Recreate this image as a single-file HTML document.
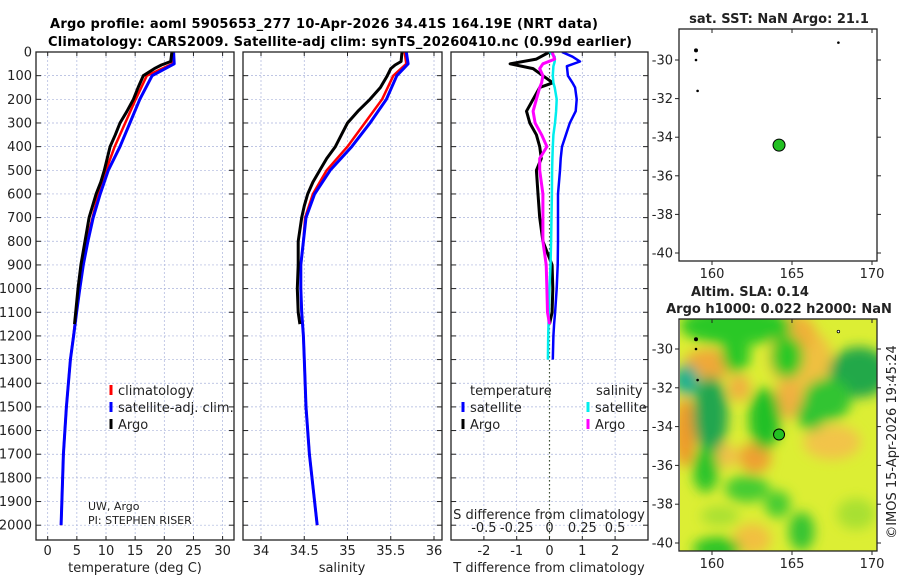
<!DOCTYPE html>
<html><head><meta charset="utf-8">
<style>
html,body{margin:0;padding:0;background:#fff;}
svg{display:block;font-family:"DejaVu Sans","Liberation Sans",sans-serif;}
</style></head>
<body>
<svg id="fig" width="900" height="580" viewBox="0 0 900 580" xmlns="http://www.w3.org/2000/svg">
<defs>
  <clipPath id="c1"><rect x="36" y="52" width="198" height="488"/></clipPath>
  <clipPath id="c2"><rect x="243" y="52" width="199" height="488"/></clipPath>
  <clipPath id="c3"><rect x="451" y="52" width="197" height="488"/></clipPath>
  <clipPath id="cm"><rect x="680" y="319" width="197" height="232"/></clipPath>
  <filter id="blur" x="-50%" y="-50%" width="200%" height="200%"><feGaussianBlur stdDeviation="6"/></filter>
</defs>
<text x="50" y="28" font-size="13" font-weight="bold" textLength="548">Argo profile: aoml 5905653_277 10-Apr-2026 34.41S 164.19E (NRT data)</text>
<text x="48" y="46" font-size="13" font-weight="bold" textLength="584">Climatology: CARS2009. Satellite-adj clim: synTS_20260410.nc (0.99d earlier)</text>
<g id="layer"></g>
</svg>
<script>
// ---------- data ----------
const depthTicks = [0,100,200,300,400,500,600,700,800,900,1000,1100,1200,1300,1400,1500,1600,1700,1800,1900,2000];
const tempTicks = [0,5,10,15,20,25,30];
const salTicks = [34,34.5,35,35.5,36];
const salTickLabels = ["34","34.5","35","35.5","36"];
const tdiffTicks = [-2,-1,0,1,2];
const sdiffTicks = [-0.5,-0.25,0,0.25,0.5];
const sdiffTickLabels = ["-0.5","-0.25","0","0.25","0.5"];

const climDepth = [0,50,100,200,300,400,500,600,700,800,900,1000,1100,1200,1300,1500,1700,2000];
const climTemp  = [21.3,21.4,17.0,15.1,13.3,11.5,10.0,8.7,7.7,6.7,6.0,5.4,4.9,4.4,3.9,3.2,2.7,2.3];
const climSal   = [35.66,35.68,35.53,35.40,35.20,35.00,34.76,34.60,34.51,34.49,34.46,34.46,34.47,34.49,34.50,34.52,34.56,34.65];

const satDepth = [0,50,100,200,300,400,500,600,700,800,900,1000,1100,1200,1300,1500,1700,2000];
const satTemp  = [21.6,21.7,17.9,15.8,14.1,12.4,10.4,9.0,7.8,6.9,6.1,5.5,4.95,4.45,3.9,3.2,2.7,2.3];
const satSal   = [35.68,35.70,35.57,35.45,35.26,35.05,34.80,34.62,34.52,34.49,34.46,34.46,34.47,34.49,34.50,34.52,34.56,34.65];

const argoDepth = [0,40,55,70,100,150,200,250,300,350,400,450,500,550,600,650,700,800,900,1000,1100,1150];
const argoTemp  = [21.3,21.1,19.5,18.3,16.4,15.5,14.7,13.6,12.4,11.6,10.7,10.2,9.7,9.1,8.3,7.7,7.1,6.4,5.7,5.2,4.8,4.6];
const argoSal   = [35.63,35.62,35.55,35.50,35.46,35.38,35.26,35.12,35.00,34.93,34.86,34.76,34.68,34.60,34.54,34.50,34.47,34.43,34.43,34.42,34.43,34.45];

const dDepth     = [0,20,40,60,100,130,150,200,250,300,350,400,450,500,600,700,800,900,1000,1100,1150,1200,1300];
const satTdiff   = [0.38,0.7,0.93,0.53,0.56,0.7,0.78,0.83,0.8,0.62,0.5,0.38,0.34,0.32,0.26,0.26,0.26,0.25,0.22,0.17,0.14,0.12,0.1];
const satSdiff   = [0,0.04,0.04,0.03,0.025,0.03,0.04,0.055,0.05,0.042,0.03,0.025,0.022,0.02,0.018,0.015,0.012,0.008,0.0,-0.005,-0.008,-0.01,-0.012];
const argoDiffDepth = [0,30,50,70,100,130,150,200,250,300,350,400,450,500,600,700,800,900,1000,1100,1150];
const argoTdiff  = [0.0,-0.4,-1.2,-0.5,-0.2,0.1,-0.3,-0.5,-0.7,-0.6,-0.4,-0.3,-0.25,-0.4,-0.35,-0.3,-0.2,0.08,0.1,0.08,0.0];
const argoSdiff  = [0.02,0.04,-0.05,-0.075,-0.05,-0.06,-0.075,-0.1,-0.125,-0.11,-0.06,-0.02,-0.075,-0.075,-0.05,-0.05,-0.05,-0.025,-0.02,-0.015,0.0];

const lonTicks = [160,165,170];
const latTicks = [-30,-32,-34,-36,-38,-40];
const argoLon = 164.19, argoLat = -34.41;
const otherLon = [159.0,159.0,159.1,167.9];
const otherLat = [-29.5,-30.0,-31.6,-29.1];

// ---------- scales ----------
const yD = d => 52 + d*0.2366;
const xT = t => 47.7 + t*5.83;
const xS = s => 261 + (s-34)*86.5;
const xTd = v => 549.5 + v*32.8;
const xSd = v => 549.5 + v*4*32.8;
const xLon = l => 712 + (l-160)*16;
const yLat1 = l => 60 + (-30-l)*19.3;
const yLat2 = l => 349 + (-30-l)*19.4;

const NS="http://www.w3.org/2000/svg";
const layer=document.getElementById('layer');
function el(tag,attrs,parent){const e=document.createElementNS(NS,tag);for(const k in attrs)e.setAttribute(k,attrs[k]);(parent||layer).appendChild(e);return e;}
function txt(x,y,s,size,anchor,parent){const t=el('text',{x:x,y:y,'font-size':size,'text-anchor':anchor||'start',fill:'#222'},parent);t.textContent=s;return t;}

const panels=[{x0:36,x1:234,clip:'c1'},{x0:243,x1:442,clip:'c2'},{x0:451,x1:648,clip:'c3'}];
const Y0=52,Y1=540;

panels.forEach((p,i)=>{
  const g=el('g',{});
  
  
  depthTicks.forEach(d=>{el('line',{x1:p.x0,x2:p.x1,y1:yD(d),y2:yD(d),stroke:'#aab4dc','stroke-width':0.7,'stroke-dasharray':'2,2'},g);
    el('line',{x1:p.x0,x2:p.x0+5,y1:yD(d),y2:yD(d),stroke:'#222'},g);
    el('line',{x1:p.x1-5,x2:p.x1,y1:yD(d),y2:yD(d),stroke:'#222'},g);});
  let xs = i==0?tempTicks.map(xT):i==1?salTicks.map(xS):tdiffTicks.map(xTd);
  xs.forEach(x=>{el('line',{x1:x,x2:x,y1:Y0,y2:Y1,stroke:'#aab4dc','stroke-width':0.7,'stroke-dasharray':'2,2'},g);
    el('line',{x1:x,x2:x,y1:Y0,y2:Y0+4,stroke:'#222'},g);el('line',{x1:x,x2:x,y1:Y1-4,y2:Y1,stroke:'#222'},g);});
});
const zl=el('line',{x1:xTd(0),x2:xTd(0),y1:Y0,y2:Y1,stroke:'#445533','stroke-width':1.2,'stroke-dasharray':'1.5,2.5'});



const dl=el('g',{});


depthTicks.forEach(d=>txt(32,yD(d)+4.5,String(d),13,'end',dl));

const xl1=el('g',{});
tempTicks.forEach(t=>txt(xT(t),555,String(t),13,'middle',xl1));
const xl2=el('g',{});
salTicks.forEach((s,i)=>txt(xS(s),555,salTickLabels[i],13,'middle',xl2));
const xl3=el('g',{});
tdiffTicks.forEach(t=>txt(xTd(t),555,String(t),13,'middle',xl3));
const xl4=el('g',{});
sdiffTicks.forEach((s,i)=>txt(xSd(s),532,sdiffTickLabels[i],13,'middle',xl4));

let t;
t=txt(135,572,'temperature (deg C)',13,'middle');
t=txt(342,572,'salinity',13,'middle');
t=txt(549,572,'T difference from climatology',13,'middle');
t=txt(549,519,'S difference from climatology',13,'middle');
t=txt(88,510,'UW, Argo',11,'start');
t=txt(88,524,'PI: STEPHEN RISER',11,'start');

function line(xs,ds,xf,color,w,clip,name){
  const pts=xs.map((v,i)=>xf(v).toFixed(1)+','+yD(ds[i]).toFixed(1)).join(' ');
  const p=el('polyline',{points:pts,fill:'none',stroke:color,'stroke-width':w,'stroke-linejoin':'round','clip-path':'url(#'+clip+')'});
  
  
}
line(climTemp,climDepth,xT,'#ff0000',2.5,'c1','climatology-temperature-line');
line(satTemp,satDepth,xT,'#0000ff',3,'c1','satellite-temperature-line');
line(argoTemp,argoDepth,xT,'#000000',3,'c1','argo-temperature-line');
line(climSal,climDepth,xS,'#ff0000',2.5,'c2','climatology-salinity-line');
line(satSal,satDepth,xS,'#0000ff',3,'c2','satellite-salinity-line');
line(argoSal,argoDepth,xS,'#000000',3,'c2','argo-salinity-line');
line(satTdiff,dDepth,xTd,'#0000ff',2.5,'c3','satellite-t-difference-line');
line(argoTdiff,argoDiffDepth,xTd,'#000000',3,'c3','argo-t-difference-line');
line(satSdiff,dDepth,xSd,'#00eeee',2.5,'c3','satellite-s-difference-line');
line(argoSdiff,argoDiffDepth,xSd,'#ff00ff',3,'c3','argo-s-difference-line');

panels.forEach((p,i)=>{const r=el('rect',{x:p.x0,y:Y0,width:p.x1-p.x0,height:Y1-Y0,fill:'none',stroke:'#222','stroke-width':1.3});
  });

function legItem(mx,tx,y,color,label,name){
  const g=el('g',{});
  
  
  if(color) el('rect',{x:mx-1.5,y:y-10,width:3,height:10,fill:color},g);
  txt(tx,y,label,13,'start',g);
}
legItem(111,118,395,'#ff0000','climatology','legend-climatology');
legItem(111,118,412,'#0000ff','satellite-adj. clim.','legend-satellite-adj');
legItem(111,118,429,'#000000','Argo','legend-argo');
legItem(0,470,395,null,'temperature','legend-temperature-header');
legItem(463,470,412,'#0000ff','satellite','legend-t-satellite');
legItem(463,470,429,'#000000','Argo','legend-t-argo');
legItem(0,596,395,null,'salinity','legend-salinity-header');
legItem(588,595,412,'#00eeee','satellite','legend-s-satellite');
legItem(588,595,429,'#ff00ff','Argo','legend-s-argo');

function mapAxes(top,bottom,yl,name){
  const g=el('g',{});
  
  
  el('rect',{x:679,y:top,width:198,height:bottom-top,fill:'none',stroke:'#222','stroke-width':1.3},g);
  lonTicks.forEach(l=>{const x=xLon(l);el('line',{x1:x,x2:x,y1:top,y2:top+4,stroke:'#222'},g);el('line',{x1:x,x2:x,y1:bottom,y2:bottom+4,stroke:'#222'},g);txt(x,bottom+17,String(l),13,'middle',g);});
  latTicks.forEach(l=>{const y=yl(l);el('line',{x1:675,x2:679,y1:y,y2:y,stroke:'#222'},g);el('line',{x1:877,x2:881,y1:y,y2:y,stroke:'#222'},g);txt(673,y+4.5,String(l),13,'end',g);});
}
otherLon.forEach((l,i)=>{const c=el('circle',{cx:xLon(l),cy:yLat1(otherLat[i]),r:i==0?2:1.3,fill:'#000'});
  });
let ap=el('circle',{cx:xLon(argoLon),cy:yLat1(argoLat),r:6,fill:'#22c022',stroke:'#000','stroke-width':1});

mapAxes(29,261,yLat1,'sst-map-axes');
t=txt(779,23,'sat. SST: NaN Argo: 21.1',13,'middle');t.setAttribute('font-weight','bold');

const hm=el('g',{'clip-path':'url(#cm)'});


el('rect',{x:679,y:319,width:198,height:232,fill:'#dcee34'},hm);
const bl=el('g',{filter:'url(#blur)'},hm);
const blobs=[ // lon, lat, rx(deg), ry(deg), color
 [165.5,-30.5,2.0,1.6,'#f0c040'],[158.3,-34.3,0.7,1.8,'#ee9a2a'],[159.8,-30.8,1.6,0.8,'#f0a838'],[162.7,-35.6,1.0,0.8,'#eea030'],[165,-29.2,1.5,1.0,'#f0b038'],
 [164.8,-32.6,0.9,1.0,'#f0b040'],[161.7,-32.0,0.7,0.7,'#f0b040'],[167.5,-34.8,1.8,0.9,'#f2c448'],[162.5,-39.8,1.2,0.8,'#f2c040'],[160.8,-35.5,0.9,0.6,'#f0c048'],
 [161.5,-28.8,3.5,1.0,'#2cc828'],[161.5,-30.3,0.9,0.9,'#2cc828'],[164.7,-30.4,1.0,1.1,'#2cc828'],
 [169.2,-31.2,1.9,1.3,'#20a848'],[167.2,-32.6,1.5,1.1,'#30c430'],[166.2,-33.4,0.9,0.8,'#30c430'],[163.3,-33.6,1.0,1.6,'#24c028'],
 [159.9,-33.4,1.1,2.0,'#20a650'],[158.4,-31.6,0.8,0.8,'#20b090'],[159.6,-36.2,0.8,1.2,'#2cc42c'],
 [162.2,-37.2,1.4,0.7,'#44cc30'],[164.1,-38.0,0.8,0.7,'#44cc30'],[165.6,-39.4,0.8,1.0,'#34c430'],[160.3,-40.3,1.5,0.6,'#2cc428'],
 [160.5,-38.6,1.2,0.5,'#a8e030'],[169,-38.5,1.2,0.8,'#a8e030']
];
blobs.forEach(b=>el('ellipse',{cx:xLon(b[0]),cy:yLat2(b[1]),rx:b[2]*16,ry:b[3]*19.4,fill:b[4]},bl));
otherLon.forEach((l,i)=>{const c=el('circle',{cx:xLon(l),cy:yLat2(otherLat[i]),r:i==0?2:1.3,fill:i==3?'#fff':'#000',stroke:i==3?'#000':'none','stroke-width':0.8});
  });
ap=el('circle',{cx:xLon(argoLon),cy:yLat2(argoLat),r:5.5,fill:'#22c022',stroke:'#000','stroke-width':1});

mapAxes(319,551,yLat2,'sla-map-axes');
t=txt(750,296,'Altim. SLA: 0.14',13,'middle');t.setAttribute('font-weight','bold');
t=txt(779,313,'Argo h1000: 0.022 h2000: NaN',13,'middle');t.setAttribute('font-weight','bold');
t=txt(0,0,'©IMOS 15-Apr-2026 19:45:24',13,'middle');t.setAttribute('transform','translate(896,442) rotate(-90)');

</script>
</body></html>
